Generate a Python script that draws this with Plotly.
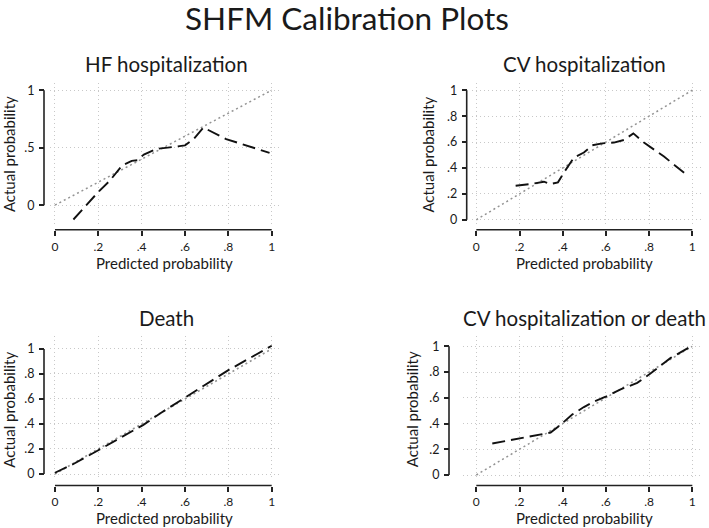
import plotly.graph_objects as go

# ---------------- data ----------------
panel_titles = ["HF hospitalization", "CV hospitalization", "Death", "CV hospitalization or death"]

hf_x = [0.085, 0.20, 0.254, 0.31, 0.354, 0.38, 0.41, 0.47, 0.52, 0.60, 0.64, 0.685, 0.79, 0.99]
hf_y = [-0.125, 0.115, 0.215, 0.345, 0.385, 0.39, 0.44, 0.49, 0.50, 0.52, 0.575, 0.675, 0.575, 0.455]

cvh_x = [0.182, 0.25, 0.313, 0.344, 0.378, 0.406, 0.452, 0.498, 0.537, 0.583, 0.637, 0.684, 0.727, 0.776, 0.869, 0.969]
cvh_y = [0.263, 0.276, 0.294, 0.276, 0.289, 0.366, 0.48, 0.519, 0.575, 0.59, 0.596, 0.616, 0.667, 0.596, 0.488, 0.353]

death_x = [0.0, 0.085, 0.20, 0.30, 0.408, 0.49, 0.60, 0.70, 0.80, 1.0]
death_y = [0.01, 0.08, 0.19, 0.286, 0.393, 0.49, 0.61, 0.725, 0.83, 1.025]

cvd_x = [0.074, 0.159, 0.236, 0.298, 0.344, 0.383, 0.444, 0.498, 0.545, 0.599, 0.668, 0.745, 0.80, 0.90, 1.0]
cvd_y = [0.245, 0.27, 0.296, 0.312, 0.33, 0.38, 0.47, 0.528, 0.57, 0.608, 0.665, 0.716, 0.78, 0.91, 1.005]

ref_x = [0, 1]
ref_y = [0, 1]

x_ticks = [0, 0.2, 0.4, 0.6, 0.8, 1]
x_ticklabels = ["0", ".2", ".4", ".6", ".8", "1"]
y_ticks_hf = [0, 0.5, 1]
y_ticklabels_hf = ["0", ".5", "1"]
y_ticks = [0, 0.2, 0.4, 0.6, 0.8, 1]
y_ticklabels = ["0", ".2", ".4", ".6", ".8", "1"]

series = [(hf_x, hf_y), (cvh_x, cvh_y), (death_x, death_y), (cvd_x, cvd_y)]
yticks = [(y_ticks_hf, y_ticklabels_hf), (y_ticks, y_ticklabels), (y_ticks, y_ticklabels), (y_ticks, y_ticklabels)]

# ---------------- layout (pixel geometry, in window pixels) ----------------
W, H = 709, 528
FONT = "Lato"
TXT = "#1a1a1a"

def px(x):
    return x / W

def py(y):
    return 1 - y / H

panels = [
    dict(xd=(50, 282), yd=(83.3, 225.5), xr=(-0.023, 1.0475), yr=(-0.166, 1.064), yax=44, xax=231, so=1),
    dict(xd=(472, 703), yd=(83.3, 226), xr=(-0.020, 1.0495), yr=(-0.038, 1.057), yax=466.7, xax=231, so=1),
    dict(xd=(50, 282), yd=(338.3, 481), xr=(-0.023, 1.0475), yr=(-0.034, 1.10), yax=44, xax=488.3, so=0),
    dict(xd=(463, 703), yd=(338.3, 482), xr=(-0.0616, 1.0495), yr=(-0.033, 1.077), yax=449, xax=488.3, so=0),
]
title_pos = [(166, 64), (584, 64), (166, 320), (584, 320)]
ytitle_pos = [(9, 155), (428.5, 155), (9, 412), (411.5, 412)]
xtitle_pos = [(164, 265), (584.5, 265), (164, 521), (584.5, 521)]

fig = go.Figure()
shapes = []
annotations = []
layout = {}

for i, p in enumerate(panels):
    n = i + 1
    xa = "xaxis" if n == 1 else f"xaxis{n}"
    ya = "yaxis" if n == 1 else f"yaxis{n}"
    xr_ = "x" if n == 1 else f"x{n}"
    yr_ = "y" if n == 1 else f"y{n}"
    sx, sy = series[i]
    fig.add_trace(go.Scatter(x=ref_x, y=ref_y, mode="lines", xaxis=xr_, yaxis=yr_,
                             line=dict(color="#939393", width=1.5, dash="2px,3px"),
                             showlegend=False, hoverinfo="skip"))
    fig.add_trace(go.Scatter(x=sx, y=sy, mode="lines", xaxis=xr_, yaxis=yr_,
                             line=dict(color="#111111", width=1.9, dash="13px,6px"),
                             showlegend=False))
    yt, ytl = yticks[i]
    layout[xa] = dict(domain=[px(p["xd"][0]), px(p["xd"][1])], range=list(p["xr"]),
                      anchor="free", position=py(p["xax"]),
                      tickvals=x_ticks, ticktext=x_ticklabels,
                      ticks="outside", ticklen=5, tickwidth=1.5, tickcolor="#222222",
                      showline=False, zeroline=False,
                      showgrid=True, gridcolor="#c8c8c8", griddash="1px,3px", gridwidth=1,
                      tickfont=dict(family=FONT, size=12, color=TXT),
                      ticklabelstandoff=p["so"])
    layout[ya] = dict(domain=[py(p["yd"][1]), py(p["yd"][0])], range=list(p["yr"]),
                      anchor="free", position=px(p["yax"]),
                      tickvals=yt, ticktext=ytl,
                      ticks="outside", ticklen=5, tickwidth=1.5, tickcolor="#222222",
                      showline=False, zeroline=False,
                      showgrid=True, gridcolor="#c8c8c8", griddash="1px,3px", gridwidth=1,
                      tickfont=dict(family=FONT, size=12.5, color=TXT),
                      ticklabelstandoff=2)
    shapes.append(dict(type="line", xref=xr_, yref="paper", x0=0, x1=1,
                       y0=py(p["xax"]), y1=py(p["xax"]),
                       line=dict(color="#222222", width=1.6)))
    shapes.append(dict(type="line", xref="paper", yref=yr_, x0=px(p["yax"]), x1=px(p["yax"]),
                       y0=0, y1=1, line=dict(color="#222222", width=1.6)))
    tx, ty = title_pos[i]
    annotations.append(dict(text=panel_titles[i], x=px(tx), y=py(ty), xref="paper", yref="paper",
                            showarrow=False, xanchor="center", yanchor="middle",
                            font=dict(family=FONT, size=20.5, color=TXT)))
    ax_, ay_ = ytitle_pos[i]
    annotations.append(dict(text="Actual probability", x=px(ax_), y=py(ay_), xref="paper", yref="paper",
                            showarrow=False, xanchor="center", yanchor="middle", textangle=-90,
                            font=dict(family=FONT, size=15, color=TXT)))
    bx, by = xtitle_pos[i]
    annotations.append(dict(text="Predicted probability", x=px(bx), y=py(by), xref="paper", yref="paper",
                            showarrow=False, xanchor="center", yanchor="middle",
                            font=dict(family=FONT, size=15, color=TXT)))

annotations.append(dict(text="SHFM Calibration Plots", x=px(347), y=py(18), xref="paper", yref="paper",
                        showarrow=False, xanchor="center", yanchor="middle",
                        font=dict(family=FONT, size=31.5, color=TXT)))

fig.update_layout(width=W, height=H, margin=dict(l=0, r=0, t=0, b=0),
                  paper_bgcolor="white", plot_bgcolor="white",
                  shapes=shapes, annotations=annotations, **layout)

# remove the page's default body margin so the figure fills the window exactly
fig.write_html("out.html", config={"displayModeBar": False},
               post_script="document.body.style.margin='0';")
